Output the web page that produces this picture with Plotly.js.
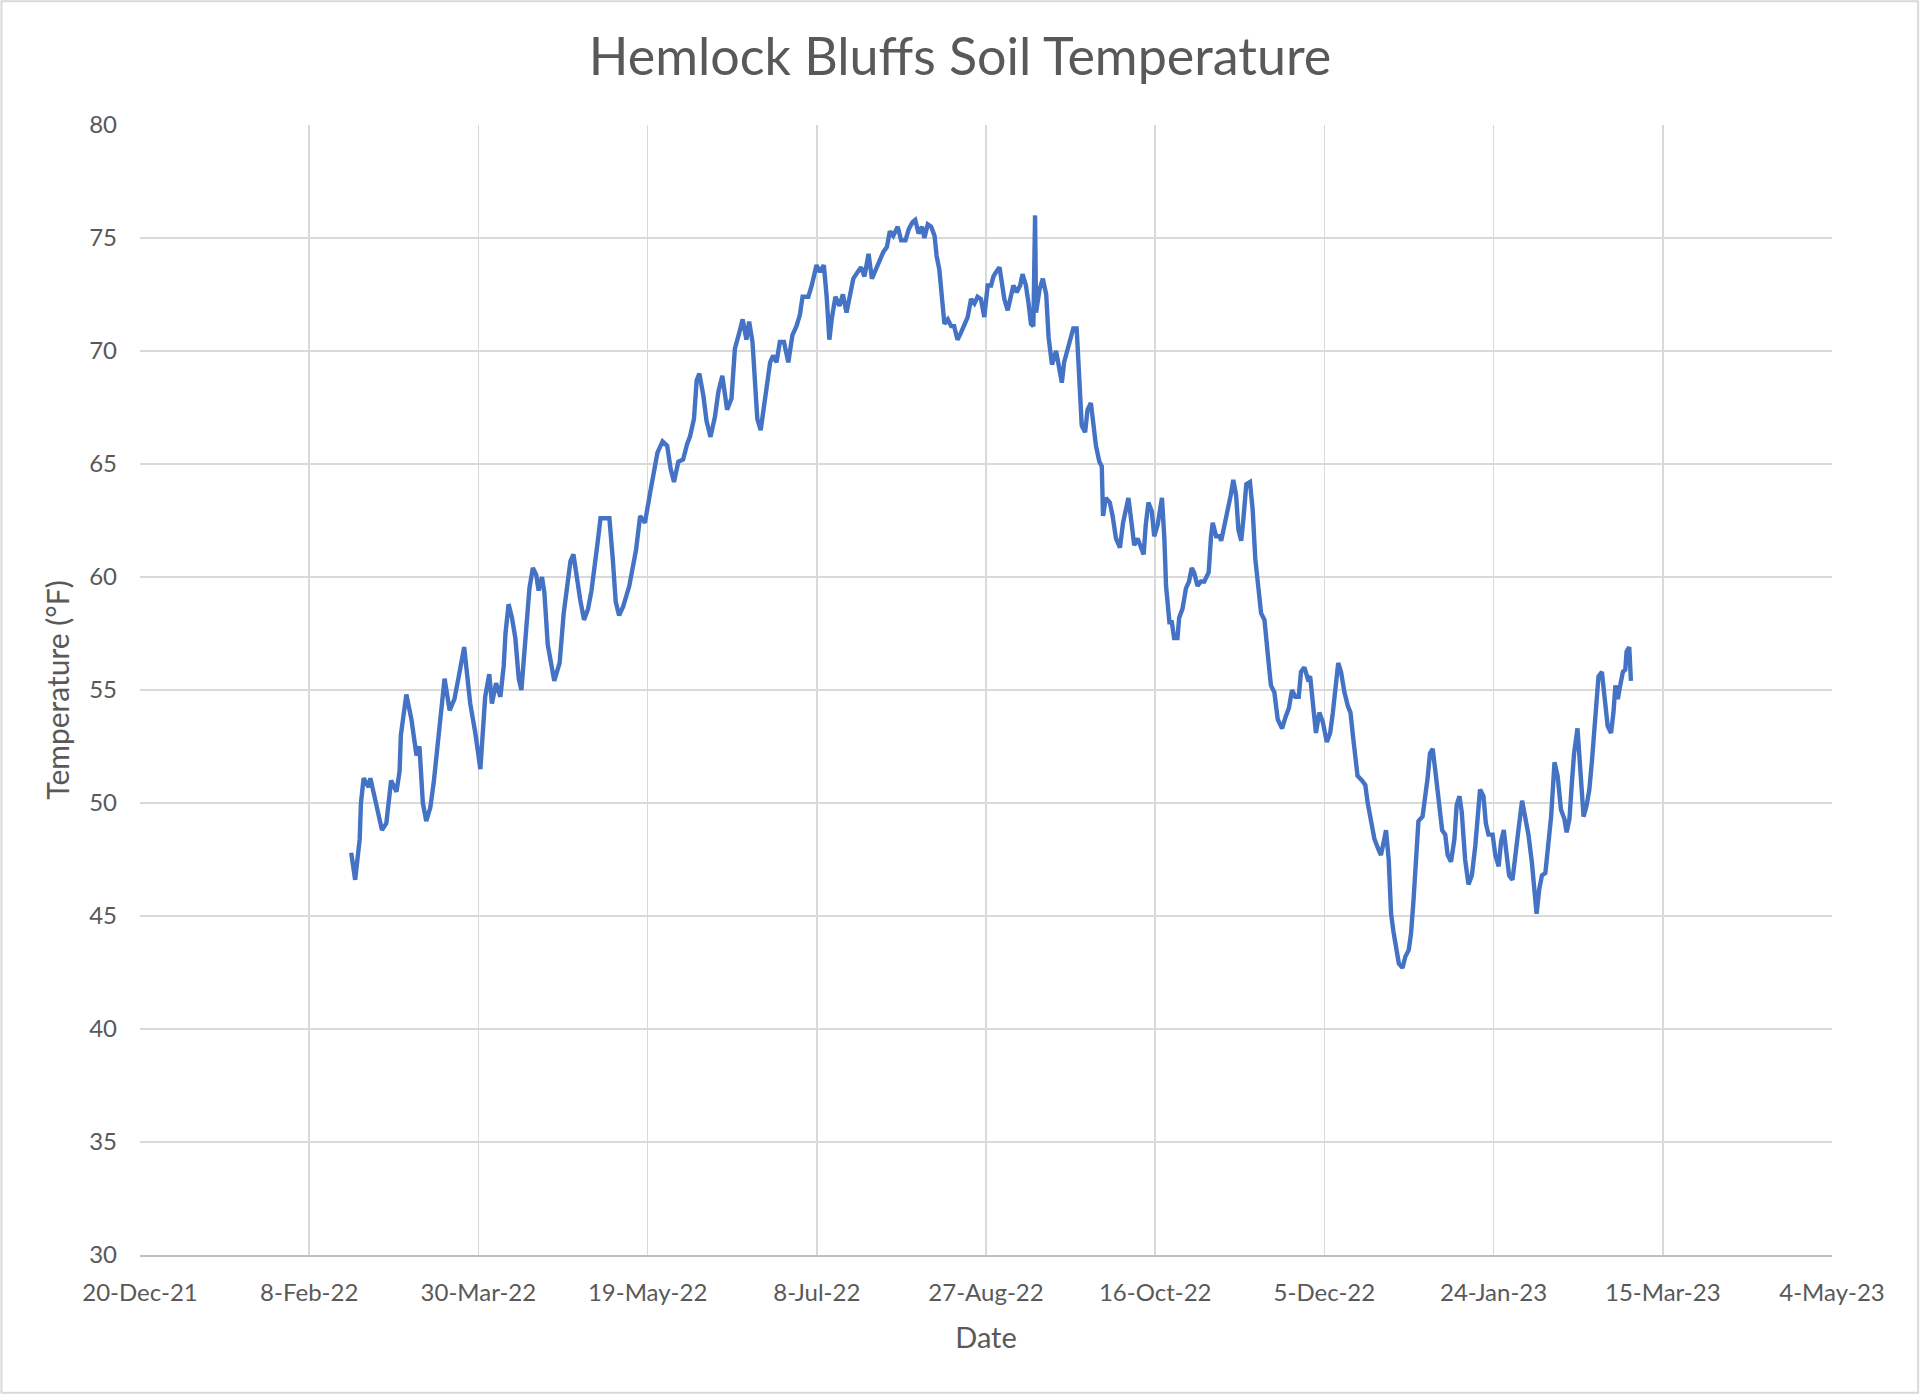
<!DOCTYPE html>
<html>
<head>
<meta charset="utf-8">
<script src="https://cdn.plot.ly/plotly-3.0.1.min.js"></script>
<style>html,body{margin:0;padding:0;background:#fff;}#chart{width:1920px;height:1395px;}</style>
</head>
<body>
<div id="chart"></div>
<script>
// Observation timestamps (yyyy-mm-dd HH)
const dates = [
"2022-02-20 10","2022-02-21 14","2022-02-22 22","2022-02-23 07","2022-02-24 02","2022-02-25 14","2022-02-26 02","2022-02-27 12",
"2022-03-01 12","2022-03-02 19","2022-03-03 12","2022-03-04 05","2022-03-05 19","2022-03-06 17","2022-03-07 02","2022-03-08 17",
"2022-03-10 05","2022-03-11 17","2022-03-12 14","2022-03-13 14","2022-03-14 14","2022-03-15 19","2022-03-16 19","2022-03-18 00",
"2022-03-19 07","2022-03-20 00","2022-03-21 12","2022-03-22 22","2022-03-24 05","2022-03-25 19","2022-03-27 14","2022-03-29 02",
"2022-03-30 14","2022-04-01 00","2022-04-02 05","2022-04-03 00","2022-04-04 05","2022-04-05 12","2022-04-06 12","2022-04-07 00",
"2022-04-07 22","2022-04-08 22","2022-04-09 22","2022-04-10 22","2022-04-11 17","2022-04-12 10","2022-04-13 05","2022-04-14 02",
"2022-04-15 02","2022-04-16 02","2022-04-16 19","2022-04-17 19","2022-04-18 12","2022-04-19 12","2022-04-21 10","2022-04-23 00",
"2022-04-24 05","2022-04-25 05","2022-04-26 05","2022-04-27 02","2022-04-28 02","2022-04-29 02","2022-04-30 05","2022-05-01 10",
"2022-05-02 10","2022-05-03 12","2022-05-04 05","2022-05-05 02","2022-05-07 17","2022-05-08 17","2022-05-09 14","2022-05-10 14",
"2022-05-11 19","2022-05-13 14","2022-05-14 19","2022-05-15 14","2022-05-16 19","2022-05-18 05","2022-05-19 17","2022-05-20 17",
"2022-05-21 22","2022-05-23 10","2022-05-24 19","2022-05-25 19","2022-05-26 19","2022-05-28 02","2022-05-29 12","2022-05-30 17",
"2022-05-31 12","2022-06-01 17","2022-06-02 12","2022-06-03 07","2022-06-04 12","2022-06-05 10","2022-06-06 14","2022-06-07 22",
"2022-06-08 22","2022-06-10 02","2022-06-10 19","2022-06-11 12","2022-06-12 19","2022-06-13 19","2022-06-15 02","2022-06-16 02",
"2022-06-17 05","2022-06-18 00","2022-06-19 00","2022-06-19 17","2022-06-20 10","2022-06-21 10","2022-06-22 10","2022-06-23 05",
"2022-06-24 05","2022-06-25 02","2022-06-26 02","2022-06-27 02","2022-06-28 07","2022-06-29 14","2022-06-30 19","2022-07-02 00",
"2022-07-03 00","2022-07-03 19","2022-07-05 12","2022-07-06 12","2022-07-07 22","2022-07-08 22","2022-07-10 02","2022-07-10 22",
"2022-07-11 17","2022-07-12 12","2022-07-13 12","2022-07-14 17","2022-07-15 17","2022-07-16 19","2022-07-17 19","2022-07-18 19",
"2022-07-20 02","2022-07-21 02","2022-07-22 02","2022-07-23 07","2022-07-24 07","2022-07-25 12","2022-07-26 12","2022-07-27 17",
"2022-07-28 17","2022-07-29 14","2022-07-30 14","2022-07-31 22","2022-08-01 22","2022-08-03 05","2022-08-04 05","2022-08-05 07",
"2022-08-06 02","2022-08-07 02","2022-08-08 02","2022-08-08 19","2022-08-09 19","2022-08-10 19","2022-08-11 19","2022-08-12 10",
"2022-08-13 05","2022-08-13 17","2022-08-14 05","2022-08-14 17","2022-08-15 17","2022-08-16 17","2022-08-17 14","2022-08-18 14",
"2022-08-19 14","2022-08-20 14","2022-08-21 14","2022-08-22 14","2022-08-23 14","2022-08-24 12","2022-08-25 12","2022-08-26 12",
"2022-08-27 12","2022-08-28 12","2022-08-29 05","2022-08-30 00","2022-08-31 00","2022-08-31 17","2022-09-01 10","2022-09-02 10",
"2022-09-03 10","2022-09-04 02","2022-09-05 02","2022-09-06 02","2022-09-06 19","2022-09-07 19","2022-09-08 14","2022-09-09 07",
"2022-09-10 00","2022-09-10 12","2022-09-10 19","2022-09-11 19","2022-09-12 19","2022-09-13 19","2022-09-14 12","2022-09-15 12",
"2022-09-16 17","2022-09-17 12","2022-09-18 10","2022-09-19 02","2022-09-20 02","2022-09-20 19","2022-09-21 19","2022-09-22 19",
"2022-09-23 12","2022-09-24 07","2022-09-25 07","2022-09-26 00","2022-09-27 00","2022-09-27 12","2022-09-28 12","2022-09-29 12",
"2022-09-30 05","2022-09-30 14","2022-10-01 10","2022-10-02 14","2022-10-03 10","2022-10-04 10","2022-10-05 14","2022-10-06 12",
"2022-10-07 12","2022-10-08 02","2022-10-09 02","2022-10-09 19","2022-10-10 19","2022-10-11 19","2022-10-12 14","2022-10-13 05",
"2022-10-14 00","2022-10-15 00","2022-10-15 17","2022-10-16 17","2022-10-18 00","2022-10-18 17","2022-10-19 05","2022-10-20 05",
"2022-10-20 22","2022-10-21 14","2022-10-22 14","2022-10-23 02","2022-10-24 02","2022-10-25 02","2022-10-26 00","2022-10-26 19",
"2022-10-27 12","2022-10-28 12","2022-10-29 12","2022-10-30 12","2022-10-31 19","2022-11-01 12","2022-11-02 00","2022-11-03 00",
"2022-11-04 00","2022-11-04 12","2022-11-05 14","2022-11-06 14","2022-11-07 07","2022-11-08 02","2022-11-08 22","2022-11-09 14",
"2022-11-10 10","2022-11-11 02","2022-11-11 22","2022-11-13 00","2022-11-13 19","2022-11-14 14","2022-11-15 07","2022-11-16 07",
"2022-11-17 07","2022-11-17 19","2022-11-18 14","2022-11-19 05","2022-11-20 05","2022-11-21 05","2022-11-22 12","2022-11-23 12",
"2022-11-24 12","2022-11-25 10","2022-11-26 10","2022-11-27 10","2022-11-28 02","2022-11-29 02","2022-11-30 02","2022-11-30 19",
"2022-12-01 14","2022-12-02 12","2022-12-03 12","2022-12-04 12","2022-12-05 17","2022-12-06 17","2022-12-07 12","2022-12-08 10",
"2022-12-09 02","2022-12-09 22","2022-12-10 22","2022-12-11 22","2022-12-12 17","2022-12-13 10","2022-12-14 05","2022-12-14 19",
"2022-12-16 02","2022-12-17 02","2022-12-17 19","2022-12-18 19","2022-12-19 19","2022-12-21 02","2022-12-21 17","2022-12-22 10",
"2022-12-23 05","2022-12-24 00","2022-12-24 17","2022-12-25 10","2022-12-26 05","2022-12-27 00","2022-12-28 02","2022-12-28 22",
"2022-12-29 22","2022-12-30 14","2022-12-31 07","2023-01-01 00","2023-01-01 19","2023-01-03 00","2023-01-03 19","2023-01-04 12",
"2023-01-05 05","2023-01-06 00","2023-01-06 19","2023-01-07 19","2023-01-08 19","2023-01-09 17","2023-01-10 10","2023-01-11 10",
"2023-01-12 10","2023-01-13 02","2023-01-13 22","2023-01-14 14","2023-01-15 14","2023-01-16 14","2023-01-17 14","2023-01-18 14",
"2023-01-19 07","2023-01-20 00","2023-01-21 00","2023-01-21 17","2023-01-22 12","2023-01-23 17","2023-01-24 12","2023-01-25 12",
"2023-01-26 05","2023-01-27 00","2023-01-27 19","2023-01-28 14","2023-01-29 14","2023-01-30 14","2023-01-31 10","2023-02-01 10",
"2023-02-02 10","2023-02-03 07","2023-02-04 07","2023-02-05 00","2023-02-05 17","2023-02-06 12","2023-02-07 07","2023-02-08 07",
"2023-02-09 00","2023-02-10 00","2023-02-11 00","2023-02-11 22","2023-02-12 22","2023-02-13 22","2023-02-14 14","2023-02-15 10",
"2023-02-16 02","2023-02-16 19","2023-02-17 19","2023-02-18 12","2023-02-19 02","2023-02-19 14","2023-02-20 12","2023-02-21 07",
"2023-02-22 02","2023-02-22 17","2023-02-23 05","2023-02-24 00","2023-02-25 00","2023-02-25 17","2023-02-26 17","2023-02-27 17",
"2023-02-28 10","2023-03-01 00","2023-03-01 17","2023-03-02 10","2023-03-03 05","2023-03-03 22","2023-03-04 07","2023-03-05 02",
"2023-03-05 14"
];
// Soil temperature (°F)
const temps = [
47.8,46.6,48.4,50.0,51.1,50.7,51.1,50.2,
48.8,49.1,49.9,51.0,50.5,51.4,53.0,54.8,
53.7,52.1,52.5,50.0,49.2,49.8,50.9,52.8,
54.4,55.5,54.1,54.6,55.6,56.9,54.4,53.1,
51.5,54.7,55.7,54.4,55.3,54.7,56.1,57.5,
58.8,58.2,57.3,55.5,55.0,56.5,58.0,59.5,
60.4,60.1,59.4,60.0,59.3,57.0,55.4,56.2,
58.4,59.6,60.7,61.0,59.9,59.0,58.1,58.6,
59.4,60.5,61.5,62.6,62.6,60.8,58.9,58.3,
58.7,59.6,60.5,61.2,62.7,62.4,63.7,64.6,
65.5,66.0,65.8,64.8,64.2,65.1,65.2,65.9,
66.2,67.0,68.7,69.0,68.0,66.9,66.2,67.1,
68.2,68.9,68.2,67.4,67.9,70.1,70.8,71.4,
70.5,71.3,70.4,68.7,67.0,66.5,67.6,68.7,
69.5,69.8,69.5,70.4,70.4,69.5,70.7,71.1,
71.6,72.4,72.4,72.9,73.8,73.5,73.8,72.4,
70.5,71.5,72.4,72.0,72.5,71.7,72.5,73.2,
73.5,73.7,73.3,74.3,73.2,73.6,74.0,74.4,
74.6,75.3,75.1,75.5,74.9,74.9,75.4,75.7,
75.8,75.2,75.5,75.0,75.6,75.5,75.1,74.2,
73.6,72.7,71.8,71.2,71.4,71.1,71.1,70.5,
70.8,71.2,71.5,72.3,72.1,72.4,72.3,71.5,
72.9,72.9,73.3,73.5,73.7,73.0,72.3,71.8,
72.4,72.9,72.6,72.9,73.4,72.9,72.1,71.2,
71.1,76.0,71.7,72.7,73.2,72.5,70.6,69.4,
70.0,69.4,68.6,69.5,70.1,70.5,71.0,71.0,
68.8,66.7,66.4,67.4,67.7,66.9,65.8,65.1,
64.9,62.7,63.5,63.3,62.7,61.7,61.3,62.4,
63.0,63.5,62.3,61.4,61.7,61.3,61.0,62.3,
63.3,62.9,61.8,62.3,63.5,61.7,59.6,58.0,
58.0,57.3,57.3,58.2,58.6,59.5,59.8,60.4,
60.2,59.6,59.8,59.8,60.2,61.8,62.4,61.8,
61.8,61.6,62.3,63.0,63.6,64.3,63.6,62.1,
61.6,62.6,64.1,64.2,63.0,60.8,59.6,58.4,
58.1,57.1,56.1,55.2,54.9,53.7,53.3,53.8,
54.2,55.0,54.7,54.7,55.8,56.0,55.5,55.6,
54.6,53.1,54.0,53.6,52.7,53.1,54.0,55.5,
56.2,55.8,54.9,54.3,54.0,53.0,51.9,51.2,
51.0,50.8,50.0,49.3,48.4,47.9,47.7,48.2,
48.8,47.5,45.1,44.3,43.5,42.9,42.7,43.2,
43.5,44.2,45.6,47.6,49.2,49.4,50.2,51.1,
52.2,52.4,51.4,50.1,48.8,48.6,47.7,47.4,
48.4,49.9,50.3,49.6,47.5,46.4,46.8,48.1,
49.3,50.6,50.3,49.1,48.6,48.6,47.7,47.2,
48.3,48.8,47.8,46.8,46.6,48.1,48.9,50.1,
49.3,48.6,47.4,46.3,45.1,46.2,46.8,46.9,
48.1,49.4,51.8,51.2,49.7,49.3,48.7,49.3,
50.8,52.2,53.3,51.9,50.8,49.4,49.9,50.6,
51.9,53.3,53.7,55.6,55.8,54.7,53.4,53.1,
54.0,55.2,54.6,55.2,55.8,55.9,56.7,56.9,
55.4
];
const chartTitle = "Hemlock Bluffs Soil Temperature";
const xTitle = "Date";
const yTitle = "Temperature (°F)";
const xRange = ["2021-12-20", "2023-05-04"];
const yRange = [30, 80];

const FONT = "Lato, 'Open Sans', sans-serif";
const TXT = "#595959";
const GRID = "#d9d9d9";

const trace = {
  x: dates.map(d => d + ":00"),
  y: temps,
  type: "scatter",
  mode: "lines",
  line: {color: "#4472C4", width: 4.4},
  hoverinfo: "x+y"
};

const layout = {
  width: 1920, height: 1395,
  paper_bgcolor: "#ffffff", plot_bgcolor: "#ffffff",
  margin: {l: 140, r: 88, t: 125, b: 140, pad: 0},
  showlegend: false,
  font: {family: FONT, color: TXT},
  title: {
    text: chartTitle,
    font: {family: FONT, size: 52, color: TXT},
    x: 0.5, xref: "container", xanchor: "center",
    y: 1 - 57 / 1395, yref: "container", yanchor: "middle"
  },
  xaxis: {
    type: "date",
    range: xRange,
    tick0: "2021-12-20",
    dtick: 50 * 86400000,
    tickformat: "%-d-%b-%y",
    showgrid: true, gridcolor: GRID, gridwidth: 1.5,
    showline: true, linecolor: "#bfbfbf", linewidth: 1.5,
    zeroline: false,
    ticks: "",
    ticklabelstandoff: 16,
    tickfont: {family: FONT, size: 24, color: TXT},
    title: {text: xTitle, font: {family: FONT, size: 29, color: TXT}, standoff: 22}
  },
  yaxis: {
    range: yRange,
    tick0: 30, dtick: 5,
    showgrid: true, gridcolor: GRID, gridwidth: 1.5,
    showline: false, zeroline: false,
    ticks: "",
    ticklabelstandoff: 22,
    tickfont: {family: FONT, size: 24, color: TXT},
    title: {text: yTitle, font: {family: FONT, size: 30, color: TXT}, standoff: 10}
  },
  shapes: [{
    type: "rect", xref: "paper", yref: "paper",
    x0: -0.0819, x1: 1.0509, y0: -0.1220, y1: 1.1096,
    line: {color: GRID, width: 2}, fillcolor: "rgba(0,0,0,0)", layer: "below"
  }]
};

Plotly.newPlot("chart", [trace], layout, {displayModeBar: false, staticPlot: true});
</script>
</body>
</html>
